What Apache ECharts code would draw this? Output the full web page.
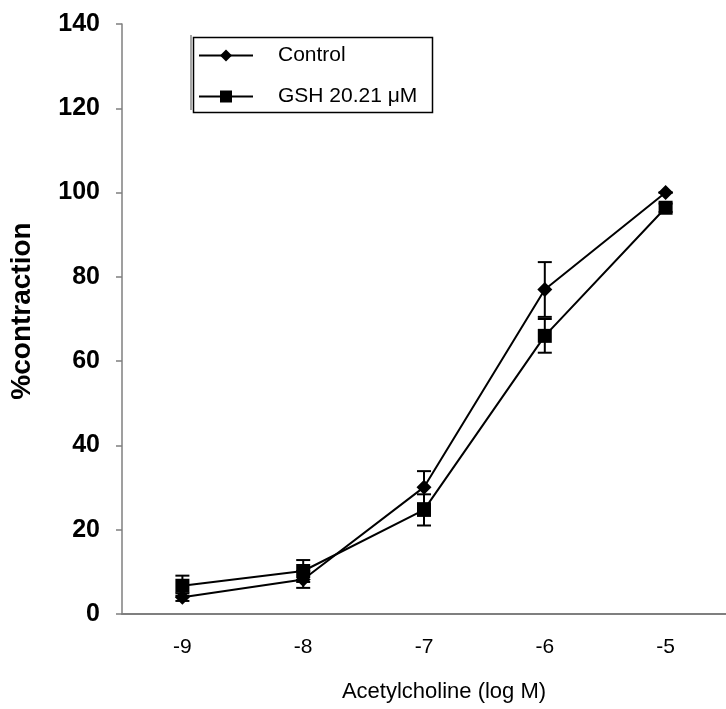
<!DOCTYPE html>
<html>
<head>
<meta charset="utf-8">
<script src="https://cdn.jsdelivr.net/npm/echarts@6/dist/echarts.min.js"></script>
<style>
    html, body { margin: 0; padding: 0; background: #fff; }
    #main { width: 726px; height: 709px; }
</style>
</head>
<body>
<div id="main"></div>
<script>
    // data
    var doses = ['-9', '-8', '-7', '-6', '-5'];
    var controlMean = [4.0, 8.2, 30.1, 77.0, 100.0];
    var controlErr = [0.9, 2.0, 3.8, 6.5, 0];
    var gshMean = [6.7, 10.2, 24.7, 66.0, 96.4];
    var gshErr = [2.4, 2.6, 3.7, 4.0, 1.0];
    var yTicks = [0, 20, 40, 60, 80, 100, 120, 140];

    var chart = echarts.init(document.getElementById('main'));

    function errorSeries(name, mean, err) {
        var data = [];
        for (var i = 0; i < mean.length; i++) {
            data.push([i, mean[i] - err[i], mean[i] + err[i]]);
        }
        return {
            name: name + ' err',
            type: 'custom',
            data: data,
            z: 1,
            silent: true,
            renderItem: function (params, api) {
                var lo = api.coord([api.value(0), api.value(1)]);
                var hi = api.coord([api.value(0), api.value(2)]);
                var w = 7;
                var st = { stroke: '#000', lineWidth: 2 };
                return {
                    type: 'group',
                    children: [
                        { type: 'line', shape: { x1: lo[0], y1: lo[1], x2: hi[0], y2: hi[1] }, style: st },
                        { type: 'line', shape: { x1: lo[0] - w, y1: lo[1], x2: lo[0] + w, y2: lo[1] }, style: st },
                        { type: 'line', shape: { x1: hi[0] - w, y1: hi[1], x2: hi[0] + w, y2: hi[1] }, style: st }
                    ]
                };
            }
        };
    }

    var axisGray = '#7f7f7f';
    var font = 'Liberation Sans, Arial, sans-serif';

    var option = {
        animation: false,
        backgroundColor: '#fff',
        grid: { left: 121, right: -6, top: 24, bottom: 95 },
        legend: {
            orient: 'vertical',
            left: 193,
            top: 40,
            itemWidth: 54,
            itemHeight: 15,
            itemGap: 20,
            data: ['Control', 'GSH 20.21 \u03bcM'],
            textStyle: {
                fontFamily: font,
                fontSize: 21,
                color: '#000',
                padding: [0, 0, 0, 20]
            }
        },
        graphic: [
            { type: 'rect', left: 191, top: 35, shape: { width: 239, height: 75 },
              style: { fill: 'none', stroke: '#000', lineWidth: 1.5 }, z: 100 },
            { type: 'line', shape: { x1: 191, y1: 35, x2: 191, y2: 110 },
              style: { stroke: '#888', lineWidth: 1.5 }, z: 101 }
        ],
        xAxis: [{
            type: 'category',
            data: doses,
            boundaryGap: true,
            name: 'Acetylcholine (log M)',
            nameLocation: 'middle',
            nameGap: 67,
            nameTextStyle: { fontFamily: font, fontSize: 22, color: '#000', padding: [0, 0, 0, 40] },
            axisLine: { lineStyle: { color: axisGray, width: 2 } },
            axisTick: { length: 7, lineStyle: { color: axisGray, width: 1.5 } },
            axisLabel: { fontFamily: font, fontSize: 21, color: '#000', margin: 23 },
            splitLine: { show: false }
        }, {
            type: 'category',
            data: doses,
            position: 'bottom',
            gridIndex: 0,
            axisLine: { show: false },
            axisTick: { alignWithLabel: true, length: 4, lineStyle: { color: axisGray, width: 1.5 } },
            axisLabel: { show: false },
            splitLine: { show: false }
        }],
        yAxis: {
            type: 'value',
            min: yTicks[0],
            max: yTicks[yTicks.length - 1],
            interval: 20,
            name: '%contraction',
            nameLocation: 'middle',
            nameGap: 86,
            nameRotate: 90,
            nameTextStyle: { fontFamily: font, fontSize: 28, fontWeight: 'bold', color: '#000', padding: [0, 0, 0, 16] },
            axisLine: { show: true, lineStyle: { color: axisGray, width: 1.5 } },
            axisTick: { show: true, length: 6, lineStyle: { color: axisGray, width: 1.5 } },
            axisLabel: { fontFamily: font, fontSize: 25, fontWeight: 'bold', color: '#000', margin: 22 },
            splitLine: { show: false }
        },
        series: [
            errorSeries('Control', controlMean, controlErr),
            errorSeries('GSH', gshMean, gshErr),
            {
                name: 'Control',
                type: 'line',
                data: controlMean,
                symbol: 'diamond',
                symbolSize: 15,
                z: 3,
                itemStyle: { color: '#000' },
                lineStyle: { color: '#000', width: 2 }
            },
            {
                name: 'GSH 20.21 \u03bcM',
                type: 'line',
                data: gshMean,
                symbol: 'rect',
                symbolSize: 14,
                z: 3,
                itemStyle: { color: '#000' },
                lineStyle: { color: '#000', width: 2 }
            }
        ]
    };
    chart.setOption(option);
</script>
</body>
</html>
